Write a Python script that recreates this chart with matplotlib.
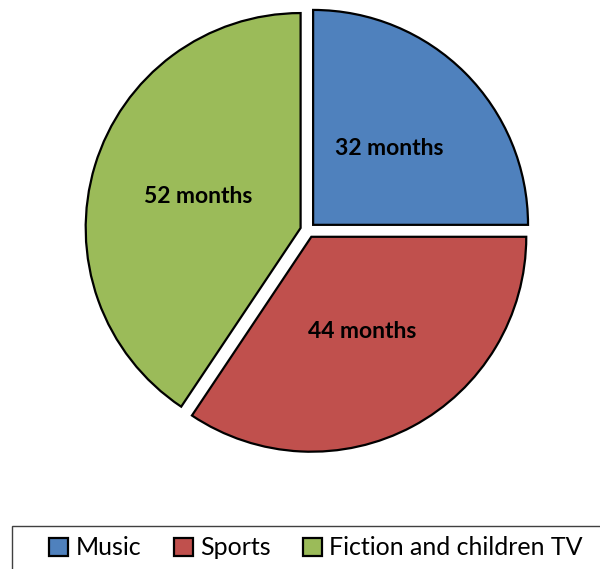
import matplotlib.pyplot as plt
from matplotlib.patches import Rectangle

categorias = ["Music", "Sports", "Fiction and children TV"]
meses = [32, 44, 52]
colores = ["#4F81BD", "#C0504D", "#9BBB59"]

plt.rcParams["font.family"] = ["Lato", "DejaVu Sans"]

fig = plt.figure(figsize=(6, 5.69), dpi=100)
ax = fig.add_axes([0.119, 0.180, 0.788, 0.831])

total = sum(meses)


def etiqueta(pct):
    return f"{round(pct * total / 100)} months"


wedges, textos, autotextos = ax.pie(
    meses,
    colors=colores,
    startangle=90,
    counterclock=False,
    explode=[0.035] * len(meses),
    autopct=etiqueta,
    pctdistance=0.5,
    wedgeprops=dict(edgecolor="black", linewidth=1.6),
    textprops=dict(fontsize=16.5, fontweight="bold", color="black"),
)
ax.set_xlim(-1.1, 1.1)
ax.set_ylim(-1.1, 1.1)
ax.set_aspect("equal")
ax.axis("off")

# caja de la leyenda, se sale de la figura como en el original
caja = Rectangle((12 / 600, -0.2), 1.2, 0.2 + 43 / 569, transform=fig.transFigure,
                 facecolor="white", edgecolor="#404040", linewidth=1.0, clip_on=False)
fig.patches.append(caja)

fig.legend(
    wedges,
    categorias,
    loc="center",
    bbox_to_anchor=(0.527, 0.037),
    ncol=3,
    frameon=False,
    fontsize=18,
    handlelength=0.75,
    handleheight=0.75,
    handletextpad=0.3,
    columnspacing=1.3,
)

fig.savefig("out.png", dpi=100)
